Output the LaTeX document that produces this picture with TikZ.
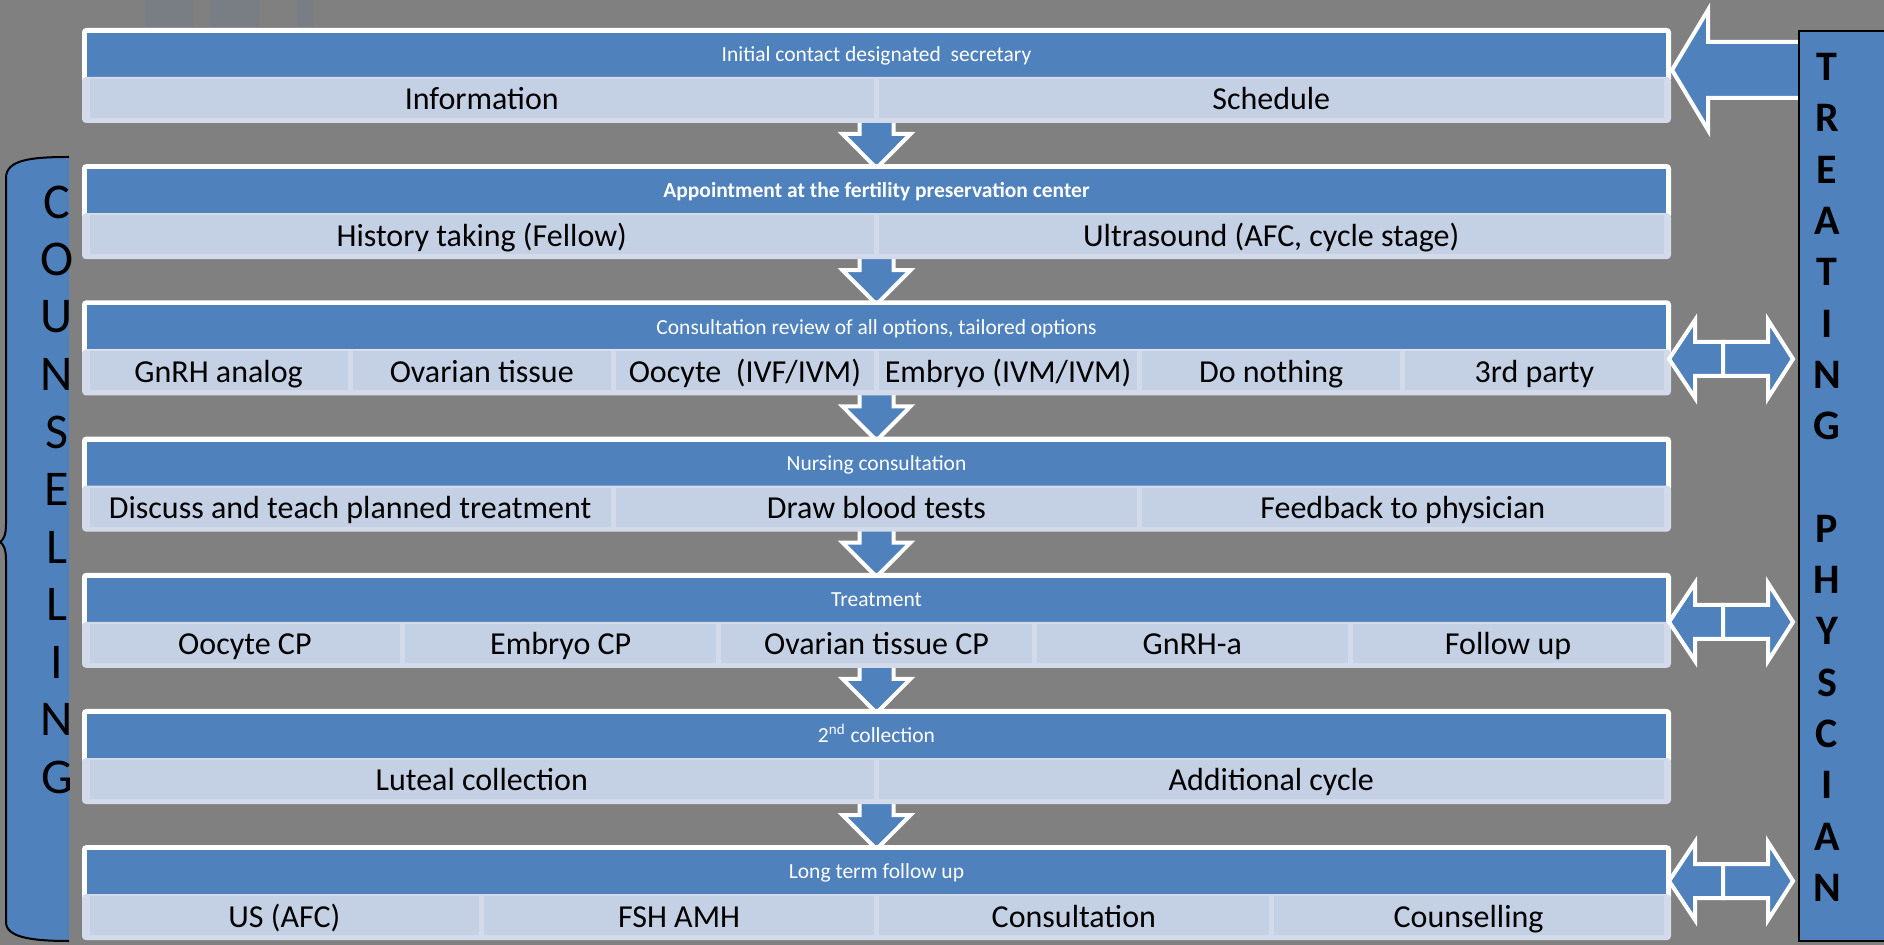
\documentclass[tikz,border=0pt]{standalone}
\usepackage{fontspec}
\setmainfont{Carlito}
\usetikzlibrary{calc}
\definecolor{bggray}{HTML}{808080}
\definecolor{hblue}{HTML}{4F81BD}
\definecolor{cellfill}{HTML}{C4D0E3}
\definecolor{cellrim}{HTML}{D3DBEA}
\definecolor{ghost}{HTML}{797E85}
\pgfdeclarelayer{backlayer}
\pgfdeclarelayer{arrowlayer}
\pgfsetlayers{backlayer,arrowlayer,main}
\tikzset{
  hdr/.style={fill=hblue, text=white, inner sep=0pt, minimum width=789.5pt, minimum height=22pt, text height=8.7pt, text depth=2pt, font=\fontsize{10.75pt}{12pt}\selectfont},
  cellbox/.style={fill=cellfill, inner sep=0pt, minimum height=19.5pt, text height=14.4pt, text depth=3pt, font=\fontsize{16pt}{19pt}\selectfont},
  blk/.style={fill=hblue, draw=white, line width=2pt, line join=miter},
  cletter/.style={inner sep=0pt, font=\fontsize{25pt}{30pt}\selectfont},
  tletter/.style={inner sep=0pt, font=\fontsize{21pt}{25pt}\selectfont\bfseries},
}
\newcommand{\fpanel}[5]{%
  \fill[white, rounded corners=2pt] (82,#2) rectangle (1671,{#2+55});
  \node[hdr] (#1) at (876.5,{#2+27}) {#3};
  \fill[cellrim, rounded corners=2pt] (82,{#2+49}) rectangle (1671,{#2+95});
  \pgfmathsetmacro{\cw}{1579/#4}
  \foreach \t [count=\k from 0] in {#5} {
    \node[cellbox, minimum width={0.5pt*(\cw-5)}] (#1-c\k) at ({87+(\k+0.5)*\cw},{#2+70.5}) {\t};
  }
  \coordinate (#1-t) at (876.5,#2);
  \coordinate (#1-b) at (876.5,{#2+95});
}
\newcommand{\fpdown}[2]{%
  \begin{pgfonlayer}{arrowlayer}
  \draw[blk] ($(#1-b)+(-17,-4)$) -- ($(#1-b)+(-17,11)$) -- ($(#1-b)+(-34,11)$) -- ($(#2-t)+(0,4)$) -- ($(#1-b)+(34,11)$) -- ($(#1-b)+(17,11)$) -- ($(#1-b)+(17,-4)$) -- cycle;
  \end{pgfonlayer}}
\newcommand{\fpdouble}[2]{%
  \coordinate (#1-r) at (1669,#2);
  \draw[blk] (#1-r) -- +(26,-39) -- +(26,-17) -- +(54,-17) -- +(54,17) -- +(26,17) -- +(26,39) -- cycle;
  \draw[blk] ($(#1-r)+(54,-17)$) -- +(45,0) -- +(45,-22) -- +(70,17) -- +(45,56) -- +(45,34) -- +(0,34) -- cycle;
}
\begin{document}
\begin{tikzpicture}[x=0.5pt,y=-0.5pt]
\useasboundingbox (0,0) rectangle (1884,945);
\clip (0,0) rectangle (1884,945);
\begin{pgfonlayer}{backlayer}
  \fill[bggray] (0,0) rectangle (1884,945);
  \fill[ghost] (145,0) rectangle (193,27);
  \fill[ghost] (210,0) rectangle (259,27);
  \fill[ghost] (297,0) rectangle (313,27);
\end{pgfonlayer}
% counselling brace
\fill[hblue] (69,157) .. controls (30,157) and (6,160) .. (6,178) -- (6,524) .. controls (6,536) and (3,540) .. (0,542) .. controls (3,544) and (6,548) .. (6,560) -- (6,922) .. controls (6,937) and (30,941) .. (69,941) -- cycle;
\draw[black, line width=1pt] (69,157) .. controls (30,157) and (6,160) .. (6,178) -- (6,524) .. controls (6,536) and (3,540) .. (0,542) .. controls (3,544) and (6,548) .. (6,560) -- (6,922) .. controls (6,937) and (30,941) .. (69,941);
\foreach \l [count=\i from 0] in {C,O,U,N,S,E,L,L,I,N,G}
  \node[cletter] (cl-\i) at (57,{202+57.5*\i}) {\l};
% panels
\fpanel{p1}{28}{Initial contact designated\ \ secretary}{2}{Information,Schedule}
\fpanel{p2}{164.2}{\textbf{Appointment at the fertility preservation center}}{2}{{History taking (Fellow)},{Ultrasound (AFC, cycle stage)}}
\fpanel{p3}{300.4}{Consultation review of all options, tailored options}{6}{{GnRH analog},{Ovarian tissue},{Oocyte\ \ (IVF/IVM)},{Embryo (IVM/IVM)},{Do nothing},{3rd party}}
\fpanel{p4}{436.6}{Nursing consultation}{3}{{Discuss and teach planned treatment},{Draw blood tests},{Feedback to physician}}
\fpanel{p5}{572.8}{Treatment}{5}{{Oocyte CP},{Embryo CP},{Ovarian tissue CP},{GnRH-a},{Follow up}}
\fpanel{p6}{709}{2\textsuperscript{nd} collection}{2}{{Luteal collection},{Additional cycle}}
\fpanel{p7}{845.2}{Long term follow up}{4}{{US (AFC)},{FSH AMH},{Consultation},{Counselling}}
% down arrows
\fpdown{p1}{p2}
\fpdown{p2}{p3}
\fpdown{p3}{p4}
\fpdown{p4}{p5}
\fpdown{p5}{p6}
\fpdown{p6}{p7}
% side arrows
\coordinate (p1-r) at (1672,70);
\draw[blk] (p1-r) -- +(36,-60) -- +(36,-28) -- +(130,-28) -- +(130,28) -- +(36,28) -- +(36,60) -- cycle;
\fpdouble{p3}{359}
\fpdouble{p5}{622}
\fpdouble{p7}{881}
% treating physician box
\node[draw=black, line width=1pt, fill=hblue, inner sep=0pt, minimum width=100pt, minimum height=455pt, anchor=north west] (tp) at (1798,30) {};
\foreach \l [count=\i from 0] in {T,R,E,A,T,I,N,G}
  \node[tletter] (tl-\i) at (1827,{67+51.3*\i}) {\l};
\foreach \l [count=\i from 9] in {P,H,Y,S,C,I,A,N}
  \node[tletter] (tl-\i) at (1827,{67+51.3*\i}) {\l};
\end{tikzpicture}
\end{document}
